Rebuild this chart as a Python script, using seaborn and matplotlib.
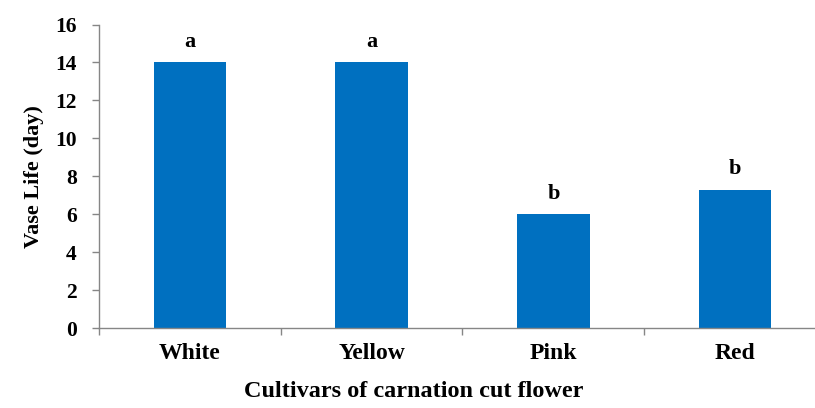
import matplotlib
matplotlib.use("Agg")
import matplotlib.pyplot as plt
import seaborn as sns
import pandas as pd

categories = ["White", "Yellow", "Pink", "Red"]
vase_life = [14.0, 14.0, 6.0, 7.3]
letters = ["a", "a", "b", "b"]
y_ticks = [0, 2, 4, 6, 8, 10, 12, 14, 16]

sns.set_theme(style="white")
plt.rcParams["font.family"] = ["Liberation Serif", "DejaVu Serif"]
plt.rcParams["font.weight"] = "bold"
plt.rcParams["text.color"] = "black"
plt.rcParams["axes.labelcolor"] = "black"
plt.rcParams["xtick.color"] = "black"
plt.rcParams["ytick.color"] = "black"

df = pd.DataFrame({"Cultivar": categories, "Vase": vase_life})

fig = plt.figure(figsize=(8.15, 4.08), dpi=100)
ax = fig.add_axes([99 / 815, (408 - 328) / 408, (826 - 99) / 815, (328 - 24.5) / 408])

sns.barplot(data=df, x="Cultivar", y="Vase", color="#0070C0", width=0.4,
            saturation=1, ax=ax, edgecolor="none")

ax.set_xlim(-0.5, 3.5)
ax.set_ylim(0, 16)
ax.set_yticks(y_ticks)
ax.set_yticklabels([str(t) for t in y_ticks], fontsize=15.5, fontweight="bold", color="black")
ax.set_xticks(range(len(categories)))
ax.set_xticklabels(categories, fontsize=17, fontweight="bold", color="black")
ax.set_xticks([-0.5, 0.5, 1.5, 2.5, 3.5], minor=True)
ax.tick_params(axis="x", which="major", length=0, pad=11)
ax.tick_params(axis="x", which="minor", length=5, width=1, color="#868686", bottom=True)
ax.tick_params(axis="y", length=5, width=1, color="#868686", left=True, pad=11)

for s in ["top", "right"]:
    ax.spines[s].set_visible(False)
for s in ["left", "bottom"]:
    ax.spines[s].set_color("#868686")
    ax.spines[s].set_linewidth(1)

ax.set_xlabel("")
ax.set_ylabel("Vase Life (day)", fontsize=16, fontweight="bold", labelpad=8, color="black")
fig.text(0.508, 0.015, "Cultivars of carnation cut flower", ha="center", va="bottom",
         fontsize=17.5, fontweight="bold", color="black")

for i, (v, l) in enumerate(zip(vase_life, letters)):
    ax.annotate(l, (i, v), xytext=(0, 11), textcoords="offset points",
                ha="center", va="baseline", fontsize=16, fontweight="bold", color="black")

fig.savefig("out.png", dpi=100)
